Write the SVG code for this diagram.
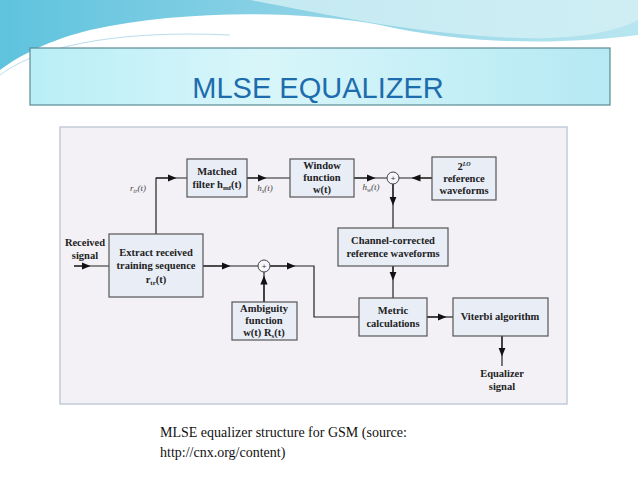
<svg xmlns="http://www.w3.org/2000/svg" width="638" height="479" viewBox="0 0 638 479">
<defs>
<linearGradient id="wave" x1="0" y1="0" x2="1" y2="0"><stop offset="0" stop-color="#5fc3de"/><stop offset="0.5" stop-color="#8fd3e6"/><stop offset="1" stop-color="#b8e6f0"/></linearGradient>
<linearGradient id="tb" x1="0" y1="0" x2="1" y2="0"><stop offset="0" stop-color="#b9eef6"/><stop offset="0.4" stop-color="#d8f6fa"/><stop offset="1" stop-color="#b5e9f3"/></linearGradient>
<marker id="a" viewBox="0 0 10 10" refX="5" refY="5" markerWidth="9" markerHeight="9" orient="auto" markerUnits="userSpaceOnUse"><path d="M0,1 L10,5 L0,9 z" fill="#111"/></marker>
<style>
.box{fill:#e8edf6;stroke:#555;stroke-width:1.2}
.t{font-family:"Liberation Serif",serif;font-weight:bold;font-size:10.5px;fill:#222;text-anchor:middle}
.i{font-family:"Liberation Serif",serif;font-style:italic;font-size:9px;fill:#444;text-anchor:middle}
.c path,.c line{fill:none;stroke:#222;stroke-width:1.2}
.sum{fill:#f6f6fa;stroke:#444;stroke-width:1}
</style>
</defs>
<rect width="638" height="479" fill="#ffffff"/>
<path d="M0,0 H638 V35 C560,45 470,45 380,25 C300,10 180,10 90,30 C50,40 20,55 0,70 Z" fill="url(#wave)"/>
<path d="M250,0 C330,15 420,35 520,38 C580,40 620,30 638,20 V0 Z" fill="#d5f0f5" opacity="0.8"/>
<path d="M0,75 C40,45 120,30 230,35" fill="none" stroke="#b8dde8" stroke-width="1"/>
<rect x="30" y="48" width="580" height="57" fill="url(#tb)" stroke="#5b8a93" stroke-width="1.2"/>
<text x="318" y="98" font-family="Liberation Sans,sans-serif" font-size="29" fill="#1d6cad" text-anchor="middle">MLSE EQUALIZER</text>
<rect x="60" y="127" width="507" height="277" fill="#f3f1f6" stroke="#c3cbd8" stroke-width="1.5"/>
<g class="c" id="connectors">
<line x1="109" y1="266" x2="74" y2="266"/>
<line x1="74" y1="266" x2="86" y2="266" marker-end="url(#a)"/>
<path d="M156,234 V178 H187"/>
<line x1="156" y1="178" x2="172" y2="178" marker-end="url(#a)"/>
<path d="M247,178 H290"/>
<line x1="247" y1="178" x2="262" y2="178" marker-end="url(#a)"/>
<path d="M354,178 H387"/>
<line x1="354" y1="178" x2="371" y2="178" marker-end="url(#a)"/>
<path d="M432,178 H399"/>
<line x1="432" y1="178" x2="416" y2="178" marker-end="url(#a)"/>
<path d="M393,184 V228"/>
<line x1="393" y1="184" x2="393" y2="201" marker-end="url(#a)"/>
<path d="M393,266 V298"/>
<line x1="393" y1="266" x2="393" y2="276" marker-end="url(#a)"/>
<path d="M203,266 H258"/>
<line x1="203" y1="266" x2="226" y2="266" marker-end="url(#a)"/>
<path d="M264,302 V272"/>
<line x1="264" y1="302" x2="264" y2="280" marker-end="url(#a)"/>
<path d="M270,266 H314 V317 H359"/>
<line x1="270" y1="266" x2="291" y2="266" marker-end="url(#a)"/>
<path d="M427,317 H453"/>
<line x1="427" y1="317" x2="442" y2="317" marker-end="url(#a)"/>
<path d="M502,336 V366"/>
<line x1="502" y1="336" x2="502" y2="352" marker-end="url(#a)"/>
</g>
<g id="received"><text class="t" x="85" y="246">Received</text><text class="t" x="85" y="259">signal</text></g>
<g id="extract"><rect class="box" x="109" y="234" width="94" height="63"/><text class="t" x="156" y="256">Extract received</text><text class="t" x="156" y="269">training sequence</text><text class="t" x="156" y="283">r<tspan font-size="7" dy="2">tr</tspan><tspan dy="-2">(t)</tspan></text></g>
<g id="rtr"><text class="i" x="138" y="191">r<tspan font-size="6" dy="2">tr</tspan><tspan dy="-2">(t)</tspan></text></g>
<g id="matched"><rect class="box" x="187" y="159" width="60" height="38"/><text class="t" x="217" y="175">Matched</text><text class="t" x="217" y="188">filter h<tspan font-size="7" dy="2">mf</tspan><tspan dy="-2">(t)</tspan></text></g>
<g id="hx"><text class="i" x="265" y="191">h<tspan font-size="6" dy="2">x</tspan><tspan dy="-2">(t)</tspan></text></g>
<g id="window"><rect class="box" x="290" y="159" width="64" height="38"/><text class="t" x="322" y="169">Window</text><text class="t" x="322" y="181">function</text><text class="t" x="322" y="193">w(t)</text></g>
<g id="hw"><text class="i" x="371" y="190">h<tspan font-size="6" dy="2">w</tspan><tspan dy="-2">(t)</tspan></text></g>
<g id="sum1"><circle class="sum" cx="393" cy="178" r="6"/><text x="393" y="181" font-family="Liberation Sans,sans-serif" font-size="8" text-anchor="middle" fill="#333">+</text></g>
<g id="ref"><rect class="box" x="432" y="157" width="64" height="43"/><text class="t" x="464" y="170">2<tspan font-size="6" dy="-4" font-style="italic">LO</tspan></text><text class="t" x="464" y="182">reference</text><text class="t" x="464" y="194">waveforms</text></g>
<g id="channel"><rect class="box" x="338" y="228" width="110" height="38"/><text class="t" x="393" y="244">Channel-corrected</text><text class="t" x="393" y="257">reference waveforms</text></g>
<g id="sum2"><circle class="sum" cx="264" cy="266" r="6"/><text x="264" y="269" font-family="Liberation Sans,sans-serif" font-size="8" text-anchor="middle" fill="#333">+</text></g>
<g id="ambiguity"><rect class="box" x="232" y="302" width="65" height="38"/><text class="t" x="264" y="312">Ambiguity</text><text class="t" x="264" y="324">function</text><text class="t" x="264" y="336">w(t) R<tspan font-size="7" dy="2">s</tspan><tspan dy="-2">(t)</tspan></text></g>
<g id="metric"><rect class="box" x="359" y="298" width="68" height="38"/><text class="t" x="393" y="314">Metric</text><text class="t" x="393" y="327">calculations</text></g>
<g id="viterbi"><rect class="box" x="453" y="298" width="95" height="38"/><text class="t" x="500" y="320">Viterbi algorithm</text></g>
<g id="eq"><text class="t" x="502" y="377">Equalizer</text><text class="t" x="502" y="390">signal</text></g>
<text x="160" y="437" font-family="Liberation Serif,serif" font-size="14" fill="#111">MLSE equalizer structure for GSM (source:</text>
<text x="160" y="457" font-family="Liberation Serif,serif" font-size="14" fill="#111">http://cnx.org/content)</text>
</svg>
